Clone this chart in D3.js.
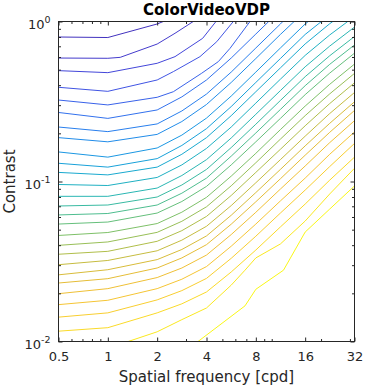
<!DOCTYPE html>
<html>
<head>
<meta charset="utf-8">
<script src="https://cdn.jsdelivr.net/npm/d3@7"></script>
<style>
  body { margin: 0; background: #fff; }
  svg { display: block; font-family: "DejaVu Sans", sans-serif; }
</style>
</head>
<body>
<svg width="365" height="387"></svg>
<script>
// contour lines: [spatial frequency (cpd), contrast]
const line01 = [[0.5,0.800],[1,0.794],[2,0.965],[2.18,1]];
const line02 = [[0.5,0.591],[1,0.589],[1.19,0.597],[2,0.723],[2.57,0.844],[3.32,1]];
const line03 = [[0.5,0.493],[1,0.479],[2,0.548],[2.57,0.603],[3.79,0.785],[4.57,1]];
const line04 = [[0.5,0.388],[1,0.366],[2,0.431],[2.51,0.486],[3.65,0.603],[4.62,0.748],[5.83,1]];
const line05 = [[0.5,0.323],[1,0.301],[2,0.336],[2.51,0.364],[3.74,0.475],[4.72,0.561],[5.57,0.680],[7.37,1]];
const line06 = [[0.5,0.270],[1,0.248],[2,0.280],[2.83,0.338],[4,0.431],[5.66,0.591],[8,0.835],[9.59,1]];
const line07 = [[0.5,0.219],[1,0.205],[2,0.229],[2.83,0.276],[4,0.352],[5.66,0.483],[8,0.683],[11.3,0.965],[11.7,1]];
const line08 = [[0.5,0.188],[1,0.177],[2,0.197],[2.83,0.237],[4,0.303],[5.66,0.416],[8,0.587],[11.3,0.830],[13.7,1]];
const line09 = [[0.5,0.153],[1,0.142],[2,0.162],[2.83,0.195],[4,0.249],[5.66,0.342],[8,0.483],[11.3,0.683],[16,0.965],[16.7,1]];
const line10 = [[0.5,0.130],[1,0.123],[2,0.139],[2.83,0.168],[4,0.214],[5.66,0.294],[8,0.416],[11.3,0.587],[16,0.830],[20.1,1]];
const line11 = [[0.5,0.114],[1,0.110],[2,0.123],[2.83,0.148],[4,0.188],[5.66,0.258],[8,0.364],[11.3,0.513],[16,0.724],[22.6,0.969],[23.6,1]];
const line12 = [[0.5,0.0958],[1,0.0944],[2,0.106],[2.83,0.127],[4,0.161],[5.66,0.219],[8,0.309],[11.3,0.436],[16,0.614],[22.6,0.824],[29.1,1]];
const line13 = [[0.5,0.0808],[1,0.0808],[2,0.0910],[2.83,0.109],[4,0.137],[5.66,0.187],[8,0.263],[11.3,0.370],[16,0.521],[22.6,0.702],[32,0.923]];
const line14 = [[0.5,0.0703],[1,0.0713],[2,0.0800],[2.83,0.0951],[4,0.119],[5.66,0.163],[8,0.228],[11.3,0.321],[16,0.452],[22.6,0.611],[32,0.806]];
const line15 = [[0.5,0.0618],[1,0.0631],[2,0.0713],[2.83,0.0845],[4,0.105],[5.66,0.144],[8,0.201],[11.3,0.282],[16,0.397],[22.6,0.540],[32,0.714]];
const line16 = [[0.5,0.0542],[1,0.0558],[2,0.0635],[2.83,0.0750],[4,0.0932],[5.66,0.127],[8,0.177],[11.3,0.248],[16,0.349],[22.6,0.476],[32,0.634]];
const line17 = [[0.5,0.0460],[1,0.0480],[2,0.0546],[2.83,0.0643],[4,0.0796],[5.66,0.108],[8,0.150],[11.3,0.211],[16,0.296],[22.6,0.405],[32,0.542]];
const line18 = [[0.5,0.0399],[1,0.0419],[2,0.0481],[2.83,0.0564],[4,0.0695],[5.66,0.0940],[8,0.131],[11.3,0.184],[16,0.258],[22.6,0.353],[32,0.474]];
const line19 = [[0.5,0.0351],[1,0.0366],[2,0.0423],[2.83,0.0493],[4,0.0605],[5.66,0.0818],[8,0.114],[11.3,0.159],[16,0.223],[22.6,0.307],[32,0.414]];
const line20 = [[0.5,0.0302],[1,0.0321],[2,0.0369],[2.83,0.0430],[4,0.0525],[5.66,0.0707],[8,0.0982],[11.3,0.137],[16,0.192],[22.6,0.266],[32,0.360]];
const line21 = [[0.5,0.0261],[1,0.0281],[2,0.0325],[2.83,0.0376],[4,0.0457],[5.66,0.0615],[8,0.0853],[11.3,0.119],[16,0.167],[22.6,0.231],[32,0.315]];
const line22 = [[0.5,0.0232],[1,0.0247],[2,0.0288],[2.83,0.0333],[4,0.0403],[5.66,0.0541],[8,0.0747],[11.3,0.104],[16,0.146],[22.6,0.203],[32,0.278]];
const line23 = [[0.5,0.0199],[1,0.0214],[2,0.0251],[2.83,0.0288],[4,0.0347],[5.66,0.0466],[8,0.0642],[11.3,0.0897],[16,0.125],[22.6,0.175],[32,0.240]];
const line24 = [[0.5,0.0170],[1,0.0181],[2,0.0214],[2.83,0.0245],[4,0.0294],[5.66,0.0394],[8,0.0542],[11.3,0.0756],[16,0.105],[22.6,0.148],[32,0.204]];
const line25 = [[0.5,0.0142],[1,0.0151],[2,0.0182],[2.83,0.0208],[4,0.0248],[5.66,0.0331],[8,0.0455],[11.3,0.0635],[16,0.0884],[22.6,0.124],[32,0.173]];
const line26 = [[0.5,0.0116],[1,0.0122],[2,0.0151],[2.83,0.0172],[4,0.0204],[5.66,0.0272],[8,0.0373],[11.3,0.0520],[16,0.0723],[22.6,0.102],[32,0.142]];
const line27 = [[1.33,0.0100],[2,0.0115],[2.83,0.0137],[4,0.0162],[5.66,0.0225],[6.87,0.0279],[8,0.0333],[11.3,0.0407],[16,0.0566],[22.6,0.0836],[32,0.121]];
const line28 = [[3.55,0.0100],[6.87,0.0167],[8,0.0212],[11.8,0.0279],[16,0.0483],[22.6,0.0673],[32,0.0938]];

const contourLines = [line01, line02, line03, line04, line05, line06, line07,
  line08, line09, line10, line11, line12, line13, line14, line15, line16,
  line17, line18, line19, line20, line21, line22, line23, line24, line25,
  line26, line27, line28];

const xTicks = [0.5, 1, 2, 4, 8, 16, 32];
const xMinorTicks = [0.6, 0.7, 0.8, 0.9, 3, 5, 6, 7, 9, 10, 20, 30];
const yTicks = [0.01, 0.1, 1];
const yTickExponents = ["-2", "-1", "0"];
const yMinorTicks = [0.02, 0.03, 0.04, 0.05, 0.06, 0.07, 0.08, 0.09,
  0.2, 0.3, 0.4, 0.5, 0.6, 0.7, 0.8, 0.9];

// plot box
const margin = { top: 21.5, right: 10.5, bottom: 45.5, left: 58.5 };
const width = 365 - margin.left - margin.right;
const height = 387 - margin.top - margin.bottom;

const svg = d3.select("svg");
const chart = svg.append("g")
  .attr("transform", `translate(${margin.left}, ${margin.top})`);

const x = d3.scaleLog().domain([0.5, 32]).range([0, width]);
const y = d3.scaleLog().domain([0.01, 1]).range([height, 0]);

// parula-like colour map
const parula = d3.interpolateRgbBasis(["#3e26a8", "#4a43e0", "#2c7ef5",
  "#0ea6da", "#2bbcac", "#88c25b", "#e0b932", "#fcc13a", "#f9f716"]);
const colour = i => parula(0.05 + 0.95 * i / (contourLines.length - 1));

svg.append("defs").append("clipPath").attr("id", "plotClip")
  .append("rect").attr("width", width).attr("height", height);

const line = d3.line().x(d => x(d[0])).y(d => y(d[1]));

chart.append("g")
  .attr("clip-path", "url(#plotClip)")
  .selectAll("path")
  .data(contourLines)
  .enter()
  .append("path")
  .attr("d", line)
  .attr("fill", "none")
  .attr("stroke", (d, i) => colour(i))
  .attr("stroke-width", 1);

// axes, ticks pointing inwards on all four sides
const axisColour = "#262626";
function styleAxis(g) {
  g.select(".domain").remove();
  g.selectAll("line").attr("stroke", axisColour);
  g.selectAll("text").attr("fill", axisColour).attr("font-size", 13)
    .attr("font-family", "DejaVu Sans");
}

chart.append("g")
  .attr("transform", `translate(0, ${height})`)
  .call(d3.axisBottom(x).tickValues(xTicks).tickFormat(d3.format("")).tickSize(-4).tickPadding(10))
  .call(styleAxis);
chart.append("g")
  .attr("transform", `translate(0, ${height})`)
  .call(d3.axisBottom(x).tickValues(xMinorTicks).tickFormat("").tickSize(-2.5))
  .call(styleAxis);
chart.append("g")
  .call(d3.axisTop(x).tickValues(xTicks).tickFormat("").tickSize(-4))
  .call(styleAxis);
chart.append("g")
  .call(d3.axisTop(x).tickValues(xMinorTicks).tickFormat("").tickSize(-2.5))
  .call(styleAxis);
chart.append("g")
  .call(d3.axisLeft(y).tickValues(yTicks).tickFormat("").tickSize(-4))
  .call(styleAxis);
chart.append("g")
  .call(d3.axisLeft(y).tickValues(yMinorTicks).tickFormat("").tickSize(-2.5))
  .call(styleAxis);
chart.append("g")
  .attr("transform", `translate(${width}, 0)`)
  .call(d3.axisRight(y).tickValues(yTicks).tickFormat("").tickSize(-4))
  .call(styleAxis);
chart.append("g")
  .attr("transform", `translate(${width}, 0)`)
  .call(d3.axisRight(y).tickValues(yMinorTicks).tickFormat("").tickSize(-2.5))
  .call(styleAxis);

// y tick labels as 10 with a superscript exponent
const yLabels = chart.append("g").selectAll("text")
  .data(yTicks)
  .enter()
  .append("text")
  .attr("x", -8)
  .attr("y", d => y(d) + 7.5)
  .attr("text-anchor", "end")
  .attr("fill", axisColour)
  .attr("font-size", 13);
yLabels.append("tspan").text("10");
yLabels.append("tspan")
  .attr("font-size", 9.5)
  .attr("dy", -6)
  .text((d, i) => yTickExponents[i]);

// box
chart.append("rect")
  .attr("width", width)
  .attr("height", height)
  .attr("fill", "none")
  .attr("stroke", axisColour)
  .attr("stroke-width", 1);

// title and axis labels
svg.append("text")
  .attr("x", margin.left + width / 2)
  .attr("y", 15)
  .attr("text-anchor", "middle")
  .attr("font-size", 15)
  .attr("font-weight", "bold")
  .attr("fill", "#000")
  .text("ColorVideoVDP");
svg.append("text")
  .attr("x", margin.left + width / 2)
  .attr("y", 381.5)
  .attr("text-anchor", "middle")
  .attr("font-size", 15)
  .attr("fill", axisColour)
  .text("Spatial frequency [cpd]");
svg.append("text")
  .attr("transform", `translate(14.5, ${margin.top + height / 2}) rotate(-90)`)
  .attr("text-anchor", "middle")
  .attr("font-size", 15)
  .attr("fill", axisColour)
  .text("Contrast");
</script>
</body>
</html>
